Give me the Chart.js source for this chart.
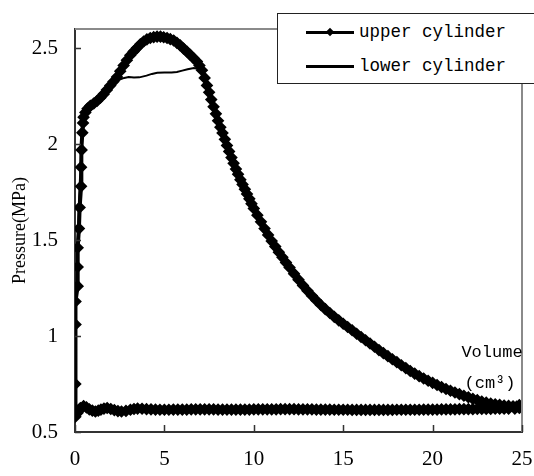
<!DOCTYPE html>
<html>
<head>
<meta charset="utf-8">
<script src="https://cdn.jsdelivr.net/npm/chart.js@4/dist/chart.umd.min.js"></script>
<style>
    body { margin: 0; background: #fff; overflow: hidden; }
    #wrap { position: relative; width: 534px; height: 476px; }
    #legend {
        position: absolute; left: 277px; top: 13px; width: 300px; height: 69px;
        border: 1px solid #222; background: #fff;
        font-family: "Liberation Mono", monospace; font-size: 17.5px; color: #000;
    }
    .sample { position: absolute; left: 28px; width: 48px; height: 3px; background: #000; }
    .diamond { position: absolute; left: 49px; width: 6px; height: 6px; background: #000; transform: rotate(45deg); }
    .label { position: absolute; left: 81px; height: 22px; line-height: 22px; white-space: nowrap; }
</style>
</head>
<body>
<div id="wrap">
    <canvas id="pvChart" width="534" height="476"></canvas>
    <div id="legend"></div>
</div>
<script>
const seriesNames = ['upper cylinder', 'lower cylinder'];
const xTicks = [0, 5, 10, 15, 20, 25];
const yTicks = [0.5, 1, 1.5, 2, 2.5];
const yAxisTitle = 'Pressure(MPa)';
const xAxisTitle = ['Volume', '(cm\u00b3)'];

// upper cylinder: compression rise, expansion, then return along the bottom
const upperX = [
    0.02, 0.02, 0.03, 0.03, 0.15, 0.15, 0.15, 0.22, 0.26, 0.34, 0.34, 0.37, 0.41, 0.45, 0.48,
    0.58, 0.7, 0.86, 1.05, 1.23, 1.42, 1.6, 1.78, 1.97, 2.15, 2.35, 2.53, 2.72, 2.9, 3.09,
    3.28, 3.47, 3.65, 3.84, 4.02, 4.21, 4.4, 4.59, 4.78, 4.96, 5.15, 5.33, 5.52, 5.7, 5.88,
    6.07, 6.26, 6.45, 6.63, 6.82, 6.96, 7.1,
    7.25, 7.38, 7.5, 7.62, 7.75, 7.88, 8.0, 8.13, 8.25, 8.38, 8.5, 8.62, 8.75, 8.87, 9.0,
    9.12, 9.25, 9.37, 9.5, 9.62, 9.75, 9.87, 10.0, 10.2, 10.4, 10.6, 10.8, 11.0, 11.2, 11.4,
    11.6, 11.8, 12.0, 12.25, 12.5, 12.75, 13.0, 13.25, 13.5, 13.75, 14.0, 14.25, 14.5, 14.75,
    15.0, 15.25, 15.5, 15.75, 16.0, 16.25, 16.5, 16.75, 17, 17.25, 17.5, 17.75, 18, 18.25,
    18.5, 18.75, 19, 19.25, 19.5, 19.75, 20, 20.25, 20.5, 20.75, 21, 21.25, 21.5, 21.75,
    22, 22.25, 22.5, 22.75, 23, 23.25, 23.5, 23.75, 24, 24.25, 24.5, 24.7, 24.85, 24.85, 24.6,
    24.25, 24, 23.75, 23.5, 23.25, 23, 22.75, 22.5, 22.25, 22, 21.75, 21.5, 21.25, 21, 20.75,
    20.5, 20.25, 20, 19.75, 19.5, 19.25, 19, 18.75, 18.5, 18.25, 18, 17.75, 17.5, 17.25, 17,
    16.75, 16.5, 16.25, 16, 15.75, 15.5, 15.25, 15, 14.75, 14.5, 14.25, 14, 13.75, 13.5, 13.25,
    13, 12.75, 12.5, 12.25, 12, 11.75, 11.5, 11.25, 11, 10.75, 10.5, 10.25, 10, 9.75, 9.5,
    9.25, 9, 8.75, 8.5, 8.25, 8, 7.75, 7.5, 7.25, 7, 6.75, 6.5, 6.25, 6, 5.75, 5.5, 5.25, 5,
    4.75, 4.5, 4.25, 4, 3.75, 3.5, 3.3, 3.1, 2.85, 2.6, 2.4, 2.2, 2.0, 1.8, 1.62, 1.45, 1.3,
    1.14, 0.97, 0.8, 0.64, 0.48, 0.3, 0.15, 0.05, 0.02
];
const upperY = [
    0.58, 0.75, 1.06, 1.18, 1.26, 1.36, 1.46, 1.56, 1.67, 1.78, 1.88, 1.97, 2.06, 2.11, 2.14,
    2.165, 2.185, 2.2, 2.212, 2.225, 2.242, 2.26, 2.282, 2.305, 2.326, 2.35, 2.38, 2.41, 2.437, 2.463,
    2.483, 2.502, 2.52, 2.535, 2.546, 2.553, 2.558, 2.56, 2.56, 2.557, 2.553, 2.547, 2.54, 2.528, 2.515,
    2.498, 2.482, 2.465, 2.448, 2.43, 2.41, 2.385,
    2.345, 2.306, 2.27, 2.232, 2.195, 2.158, 2.122, 2.088, 2.058, 2.025, 1.993, 1.962, 1.93, 1.9, 1.87,
    1.843, 1.815, 1.79, 1.765, 1.74, 1.715, 1.69, 1.665, 1.63, 1.595, 1.56, 1.527, 1.495, 1.466, 1.437,
    1.41, 1.383, 1.357, 1.325, 1.294, 1.264, 1.236, 1.21, 1.185, 1.162, 1.14, 1.12, 1.1, 1.082,
    1.064, 1.047, 1.03, 1.012, 0.995, 0.978, 0.961, 0.944, 0.927, 0.911, 0.895, 0.879, 0.864, 0.848,
    0.833, 0.818, 0.804, 0.791, 0.779, 0.767, 0.756, 0.745, 0.734, 0.724, 0.715, 0.706, 0.697, 0.689,
    0.681, 0.673, 0.666, 0.659, 0.653, 0.648, 0.644, 0.641, 0.638, 0.636, 0.634, 0.632, 0.64, 0.625, 0.622,
    0.621, 0.621, 0.621, 0.621, 0.62, 0.62, 0.62, 0.62, 0.619, 0.619, 0.619, 0.619, 0.618, 0.618, 0.618,
    0.618, 0.617, 0.617, 0.617, 0.617, 0.616, 0.616, 0.616, 0.616, 0.616, 0.616, 0.615, 0.615, 0.615, 0.615,
    0.615, 0.615, 0.615, 0.615, 0.615, 0.615, 0.616, 0.616, 0.616, 0.616, 0.617, 0.617, 0.617, 0.617, 0.618,
    0.618, 0.618, 0.618, 0.619, 0.619, 0.619, 0.619, 0.618, 0.618, 0.618, 0.618, 0.618, 0.618, 0.617, 0.617,
    0.617, 0.617, 0.617, 0.617, 0.617, 0.617, 0.618, 0.618, 0.618, 0.618, 0.618, 0.618, 0.617, 0.617, 0.617, 0.617, 0.616, 0.616,
    0.616, 0.617, 0.618, 0.619, 0.621, 0.622, 0.62, 0.616, 0.61, 0.607, 0.609, 0.614, 0.62, 0.625, 0.622, 0.617, 0.611,
    0.607, 0.611, 0.618, 0.628, 0.635, 0.625, 0.6, 0.6, 0.62
];

// lower cylinder: plateau near 2.35-2.4 instead of the peak
const lowerX = [
    0.02, 0.04, 0.12, 0.22, 0.33, 0.42, 0.5, 0.65, 0.9, 1.3, 1.7, 2.0, 2.25, 2.5, 2.75, 3.0,
    3.3, 3.6, 4.0, 4.3, 4.6, 5.0, 5.4, 5.7, 6.0, 6.3, 6.65, 6.9, 7.1, 7.3, 7.5, 7.75, 8.0,
    8.25, 8.5, 8.75, 9.0, 9.25, 9.5, 9.75, 10.0, 10.4, 10.8, 11.2, 11.6, 12.0, 12.5, 13, 13.5,
    14, 14.5, 15, 16, 17, 18, 19, 20, 21, 22, 23, 24, 24.8,
    24.5, 23, 21, 19, 17, 15, 13, 11, 9, 7, 5, 4, 3.5, 2.6, 1.8, 1.14, 0.48, 0.2, 0.02
];
const lowerY = [
    0.6, 1.1, 1.42, 1.7, 1.93, 2.08, 2.14, 2.175, 2.2, 2.232, 2.27, 2.3, 2.322, 2.336, 2.345, 2.35,
    2.347, 2.348, 2.357, 2.366, 2.372, 2.373, 2.373, 2.376, 2.383, 2.39, 2.397, 2.392, 2.37, 2.33, 2.28, 2.205, 2.13,
    2.065, 2.0, 1.938, 1.877, 1.822, 1.771, 1.721, 1.671, 1.6, 1.532, 1.47, 1.413, 1.36, 1.296, 1.237, 1.186,
    1.141, 1.1, 1.064, 0.995, 0.927, 0.864, 0.804, 0.756, 0.715, 0.681, 0.653, 0.638, 0.632,
    0.624, 0.621, 0.619, 0.617, 0.616, 0.616, 0.618, 0.619, 0.618, 0.619, 0.617, 0.619, 0.621, 0.608, 0.624, 0.608, 0.632, 0.612, 0.6
];

function toPoints(xs, ys) {
    return xs.map((x, i) => ({ x: x, y: ys[i] }));
}

// legend box, drawn as html
function buildLegend() {
    const box = document.getElementById('legend');
    seriesNames.forEach((name, i) => {
        const cy = i === 0 ? 18 : 52;
        const line = document.createElement('div');
        line.className = 'sample';
        line.style.top = (cy - 1.5) + 'px';
        box.appendChild(line);
        if (i === 0) {
            const d = document.createElement('div');
            d.className = 'diamond';
            d.style.top = (cy - 3) + 'px';
            box.appendChild(d);
        }
        const txt = document.createElement('div');
        txt.className = 'label';
        txt.style.top = (cy - 11) + 'px';
        txt.textContent = name;
        box.appendChild(txt);
    });
}

// frame on top/right, inward tick marks and the volume label inside the plot
const framePlugin = {
    id: 'frame',
    afterDraw(chart) {
        const ctx = chart.ctx;
        const a = chart.chartArea;
        const xs = chart.scales.x;
        const ys = chart.scales.y;
        ctx.save();
        ctx.strokeStyle = '#8a8a8a';
        ctx.lineWidth = 2;
        ctx.beginPath();
        ctx.moveTo(a.left, a.top);
        ctx.lineTo(a.right, a.top);
        ctx.lineTo(a.right, a.bottom);
        ctx.stroke();

        ctx.strokeStyle = '#333';
        ctx.lineWidth = 1.5;
        ctx.beginPath();
        yTicks.forEach(v => {
            const y = Math.round(ys.getPixelForValue(v)) + 0.5;
            ctx.moveTo(a.left, y);
            ctx.lineTo(a.left + 6, y);
        });
        xTicks.forEach(v => {
            const x = Math.round(xs.getPixelForValue(v)) + 0.5;
            ctx.moveTo(x, a.bottom);
            ctx.lineTo(x, a.bottom - 7);
        });
        ctx.stroke();

        ctx.fillStyle = '#000';
        ctx.font = '17px "Liberation Mono", monospace';
        ctx.textAlign = 'center';
        ctx.textBaseline = 'middle';
        ctx.fillText(xAxisTitle[0], a.right - 30, 352);
        ctx.fillText(xAxisTitle[1], a.right - 32, 383);
        ctx.restore();
    }
};

function initializeChart() {
    buildLegend();

    new Chart(document.getElementById('pvChart'), {
        type: 'scatter',
        data: {
            datasets: [{
                label: seriesNames[0],
                data: toPoints(upperX, upperY),
                showLine: true,
                borderColor: '#000',
                backgroundColor: '#000',
                borderWidth: 4,
                pointStyle: 'rectRot',
                pointRadius: 3.5,
                tension: 0
            }, {
                label: seriesNames[1],
                data: toPoints(lowerX, lowerY),
                showLine: true,
                borderColor: '#000',
                backgroundColor: '#000',
                borderWidth: 2,
                pointRadius: 0,
                tension: 0
            }]
        },
        options: {
            responsive: false,
            animation: false,
            layout: { padding: { top: 29, right: 0, left: 0, bottom: 0 } },
            plugins: {
                legend: { display: false },
                tooltip: { enabled: false }
            },
            scales: {
                x: {
                    type: 'linear',
                    min: 0,
                    max: 25,
                    afterFit: s => { s.height = 44; s.paddingRight = 12; s.paddingLeft = 0; },
                    afterBuildTicks: s => { s.ticks = xTicks.map(v => ({ value: v })); },
                    grid: { display: false, drawTicks: false },
                    border: { display: true, color: '#333', width: 2 },
                    ticks: {
                        padding: 15,
                        color: '#000',
                        font: { family: '"Liberation Serif", serif', size: 21 },
                        callback: v => String(v)
                    }
                },
                y: {
                    type: 'linear',
                    min: 0.5,
                    max: 2.6,
                    afterFit: s => { s.width = 75; s.paddingTop = 0; s.paddingBottom = 0; },
                    afterBuildTicks: s => { s.ticks = yTicks.map(v => ({ value: v })); },
                    grid: { display: false, drawTicks: false },
                    border: { display: true, color: '#333', width: 2 },
                    title: {
                        display: true,
                        text: yAxisTitle,
                        color: '#000',
                        font: { family: '"Liberation Serif", serif', size: 18 },
                        padding: { top: 9, bottom: 0 }
                    },
                    ticks: {
                        padding: 17,
                        color: '#000',
                        font: { family: '"Liberation Serif", serif', size: 21 },
                        callback: v => String(v)
                    }
                }
            }
        },
        plugins: [framePlugin]
    });
}

document.addEventListener('DOMContentLoaded', initializeChart);
</script>
</body>
</html>
